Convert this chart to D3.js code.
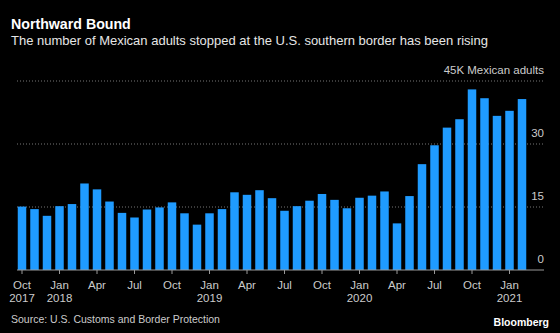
<!DOCTYPE html>
<html>
<head>
<meta charset="utf-8">
<script src="https://cdn.jsdelivr.net/npm/d3@7"></script>
<style>
  html, body { margin: 0; padding: 0; background: #000; }
  svg { display: block; }
  text { font-family: "Liberation Sans", Arial, sans-serif; }
</style>
</head>
<body>
<svg id="chart" width="560" height="333"></svg>
<script>
// Monthly apprehensions of Mexican adults, thousands (Oct 2017 - Feb 2021)
const months = [
  '2017-10', '2017-11', '2017-12',
  '2018-01', '2018-02', '2018-03', '2018-04', '2018-05', '2018-06',
  '2018-07', '2018-08', '2018-09', '2018-10', '2018-11', '2018-12',
  '2019-01', '2019-02', '2019-03', '2019-04', '2019-05', '2019-06',
  '2019-07', '2019-08', '2019-09', '2019-10', '2019-11', '2019-12',
  '2020-01', '2020-02', '2020-03', '2020-04', '2020-05', '2020-06',
  '2020-07', '2020-08', '2020-09', '2020-10', '2020-11', '2020-12',
  '2021-01', '2021-02'
];
const adults = [
  15.1, 14.5, 12.9,
  15.2, 15.7, 20.6, 19.2, 16.3, 13.6,
  12.5, 14.4, 14.9, 16.1, 13.5, 10.8,
  13.5, 14.5, 18.5, 17.9, 19.0, 17.1,
  14.1, 15.2, 16.5, 18.1, 16.7, 14.7,
  17.2, 17.7, 18.7, 11.1, 17.6, 25.2,
  29.7, 33.9, 35.9, 43.0, 40.9, 36.7,
  37.9, 40.7
];
const yTicks = [0, 15, 30, 45];
const monthNames = { '01': 'Jan', '04': 'Apr', '07': 'Jul', '10': 'Oct' };

const svg = d3.select('#chart');

const x = d3.scaleBand()
  .domain(months)
  .range([15.75, 528.25])
  .paddingInner(0.32)
  .paddingOuter(0.16);

const y = d3.scaleLinear().domain([0, 45]).range([270, 81]);

// titles
svg.append('text')
  .attr('x', 11).attr('y', 29)
  .attr('fill', '#fff')
  .style('font-size', '14.2px').style('font-weight', 'bold')
  .text('Northward Bound');
svg.append('text')
  .attr('x', 11).attr('y', 45)
  .attr('fill', '#e6e6e6')
  .style('font-size', '13px')
  .text('The number of Mexican adults stopped at the U.S. southern border has been rising');

// gridlines + right labels
const grid = svg.append('g');
grid.selectAll('line')
  .data(yTicks.filter(d => d > 0))
  .enter().append('line')
    .attr('x1', 17).attr('x2', 544)
    .attr('y1', d => y(d)).attr('y2', d => y(d))
    .attr('stroke', '#777')
    .attr('stroke-width', 1)
    .attr('stroke-dasharray', '1,2');
grid.selectAll('text')
  .data(yTicks)
  .enter().append('text')
    .attr('x', 544)
    .attr('y', d => y(d) - 7)
    .attr('text-anchor', 'end')
    .attr('fill', '#ccc')
    .style('font-size', '11.5px')
    .text(d => d === 45 ? '45K Mexican adults' : d);

// bars
svg.append('g').selectAll('rect')
  .data(adults)
  .enter().append('rect')
    .attr('x', (d, i) => x(months[i]))
    .attr('width', x.bandwidth())
    .attr('y', d => y(d))
    .attr('height', d => y(0) - y(d))
    .attr('fill', '#1f9bff');

// baseline axis with quarterly ticks
const quarterly = months.filter(m => monthNames[m.slice(5)]);
const xAxis = d3.axisBottom(x)
  .tickValues(quarterly)
  .tickSize(4)
  .tickPadding(7)
  .tickFormat(m => monthNames[m.slice(5)]);
const ax = svg.append('g')
  .attr('transform', `translate(0,${y(0)})`)
  .call(xAxis);
ax.select('.domain').remove();
ax.append('line')
  .attr('x1', 17).attr('x2', 544)
  .attr('stroke', '#999');
ax.selectAll('.tick line').attr('stroke', '#999');
ax.selectAll('.tick text')
  .attr('fill', '#ccc')
  .style('font-size', '11.5px')
  .style('font-family', '"Liberation Sans", Arial, sans-serif');
ax.selectAll('.tick')
  .filter(m => m.slice(5) === '01' || m === months[0])
  .append('text')
    .attr('y', 24)
    .attr('dy', '0.71em')
    .attr('text-anchor', 'middle')
    .attr('fill', '#ccc')
    .style('font-size', '11.5px')
    .text(m => m.slice(0, 4));

// footer
svg.append('text')
  .attr('x', 11).attr('y', 323)
  .attr('fill', '#ccc')
  .style('font-size', '10.5px')
  .text('Source: U.S. Customs and Border Protection');
svg.append('text')
  .attr('x', 549).attr('y', 326)
  .attr('text-anchor', 'end')
  .attr('fill', '#fff')
  .style('font-size', '10.5px').style('font-weight', 'bold')
  .text('Bloomberg');
</script>
</body>
</html>
